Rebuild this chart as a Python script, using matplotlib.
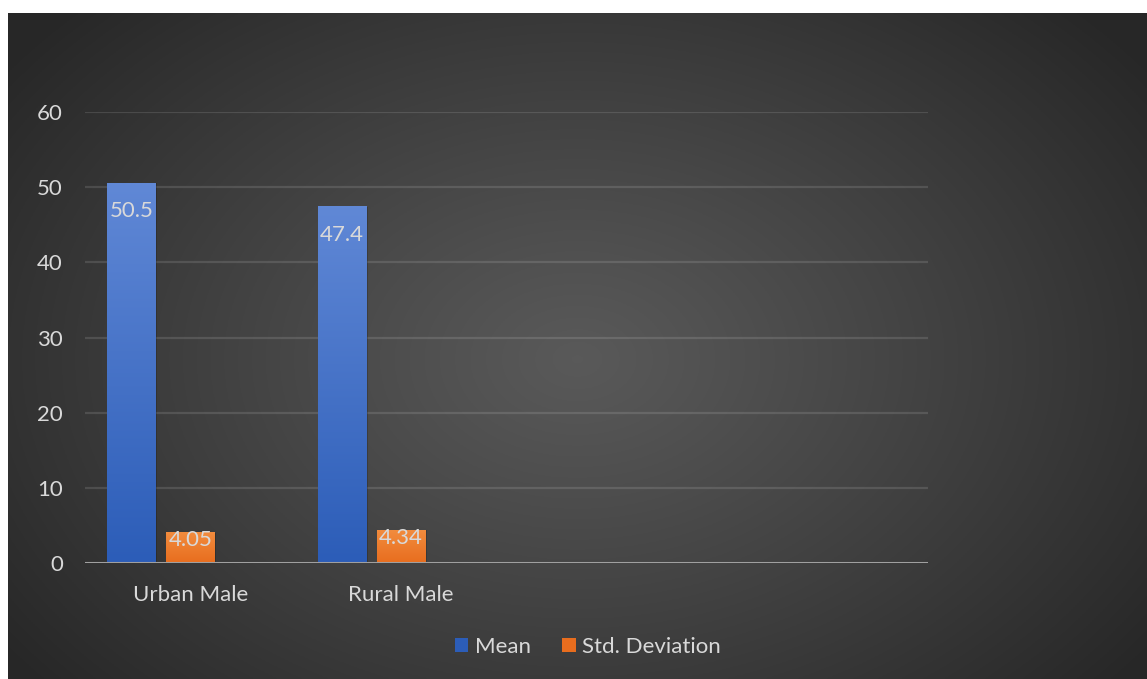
import numpy as np
from matplotlib import pyplot as plt
from matplotlib.patches import Patch

categories = ["Urban Male", "Rural Male", "", ""]
mean_vals = [50.5, 47.4]
std_vals = [4.05, 4.34]
series_names = ["Mean", "Std. Deviation"]
y_ticks = [0, 10, 20, 30, 40, 50, 60]

W, H = 1147, 679
plt.rcParams['font.family'] = ['Lato', 'DejaVu Sans']
FS = 16

fig = plt.figure(figsize=(W / 100, H / 100), dpi=100, facecolor='white')

# dark radial backdrop (leaves a thin white strip on top and left)
bg = fig.add_axes([8 / W, 0, 1 - 8 / W, 1 - 13 / H])
bg.set_axis_off()
gx, gy = np.meshgrid(np.linspace(0, 1, 600), np.linspace(0, 1, 350))
r = np.sqrt(((gx - 0.5) / 0.62) ** 2 + ((gy - 0.52) / 0.75) ** 2)
r = np.clip(r, 0, 1)
shade = 0.35 - (0.35 - 0.155) * r ** 1.1
bg.imshow(np.dstack([shade] * 3), extent=[0, 1, 0, 1], aspect='auto')
bg.set_xlim(0, 1)
bg.set_ylim(0, 1)

ax = fig.add_axes([85 / W, (H - 563) / H, 843 / W, 451 / H])
ax.patch.set_visible(False)

for s in ax.spines.values():
    s.set_visible(False)
ax.axhline(0, color='#a0a0a0', lw=2.2, zorder=4)
for t in y_ticks[1:]:
    ax.axhline(t, color='white', alpha=0.12, lw=1.6, zorder=1)

ax.set_yticks(y_ticks)
ax.set_xticks(range(len(categories)))
ax.set_xticklabels(categories)
ax.tick_params(length=0, labelcolor='#d9d9d9', labelsize=FS)
ax.tick_params(axis='y', pad=16)
ax.tick_params(axis='x', pad=16)

bw = 0.228
offsets = [-0.28, 0.0]
grads = [("#6088d6", "#2c5db8"), ("#f28c3e", "#e86d1e")]


def grad_bar(x, h, top, bottom):
    c1 = np.array(plt.matplotlib.colors.to_rgb(top))
    c2 = np.array(plt.matplotlib.colors.to_rgb(bottom))
    t = np.linspace(0, 1, 100)[:, None]
    img = (c1 * (1 - t) + c2 * t)[:, None, :]
    # soft shadow behind the bar
    ax.add_patch(plt.Rectangle((x - bw / 2 + 0.008, 0), bw, h, color='black',
                               alpha=0.18, zorder=2, lw=0))
    ax.imshow(img, extent=[x - bw / 2, x + bw / 2, 0, h], aspect='auto',
              zorder=3, interpolation='bilinear')


for vals, off, (c_top, c_bot) in zip([mean_vals, std_vals], offsets, grads):
    for i, v in enumerate(vals):
        x = i + off
        grad_bar(x, v, c_top, c_bot)
        dy = -13 if v > 10 else 2
        ax.annotate(f"{v:g}", (x, v), xytext=(0, dy), textcoords='offset points',
                    ha='center', va='top', color='#d9d9d9', fontsize=FS, zorder=5)

ax.set_xlim(-0.5, len(categories) - 0.5)
ax.set_ylim(0, 60)

handles = [Patch(facecolor=grads[0][1], edgecolor='none'),
           Patch(facecolor=grads[1][1], edgecolor='none')]
fig.legend(handles, series_names, loc='center', bbox_to_anchor=(588 / W, 1 - 647 / H),
           ncol=2, frameon=False, fontsize=FS, labelcolor='#d9d9d9',
           handlelength=0.6, handleheight=0.6, handletextpad=0.3, columnspacing=1.4)

fig.savefig("out.png", dpi=100, facecolor='white')
